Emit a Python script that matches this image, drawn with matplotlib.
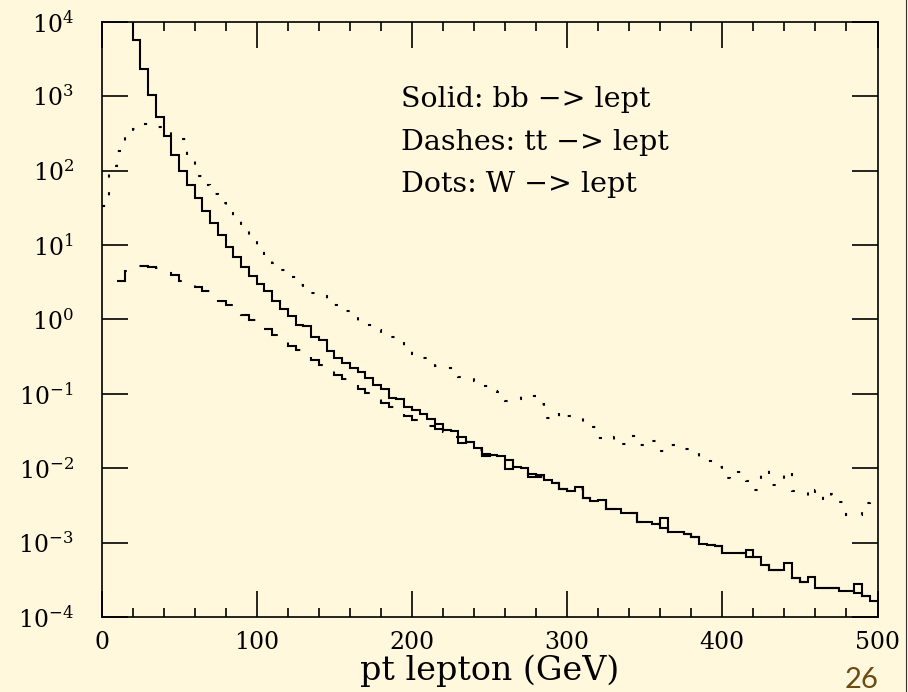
import numpy as np
import matplotlib.pyplot as plt
from matplotlib.ticker import MultipleLocator, NullLocator, FixedLocator
from matplotlib.lines import Line2D

plt.rcParams['font.family'] = 'DejaVu Serif'
plt.rcParams['mathtext.fontset'] = 'dejavuserif'

bg = '#fff8dc'
W, H = 908, 692

# 5 GeV bins; each list starts at its own first bin
bb_start = 15
bb = [2.0e4, 5750, 2290, 1050, 525, 288, 162, 100, 63.1, 42.7,
      28.8, 20.0, 13.8, 9.33, 6.92, 5.01, 3.80, 3.02, 2.45, 1.78,
      1.38, 1.10, 0.832, 0.813, 0.575, 0.537, 0.380, 0.302, 0.263, 0.224,
      0.195, 0.162, 0.132, 0.115, 0.0891, 0.0851, 0.0676, 0.0603, 0.0537, 0.0457,
      0.0389, 0.0331, 0.0316, 0.0219, 0.0229, 0.0186, 0.0158, 0.0151, 0.0145, 0.0129,
      0.0105, 0.0100, 0.00851, 0.00813, 0.00692, 0.00631, 0.00537, 0.00490, 0.00562, 0.00398,
      0.00363, 0.00372, 0.00288, 0.00288, 0.00251, 0.00251, 0.00191, 0.00191, 0.00178, 0.00219,
      0.00141, 0.00141, 0.00132, 0.00120, 0.000977, 0.000933, 0.000912, 0.000724, 0.000724, 0.000724,
      0.000813, 0.000646, 0.000501, 0.000437, 0.000437, 0.000537, 0.000339, 0.000295, 0.000347, 0.000251,
      0.000245, 0.000245, 0.000229, 0.000229, 0.000282, 0.000195, 0.000166]

tt_start = 10
tt = [3.32, 4.53, 5.24, 5.31, 5.14, 4.88, 4.26, 3.96, 3.29, 3.06,
      2.75, 2.42, 2.13, 1.79, 1.57, 1.34, 1.15, 0.984, 0.843, 0.738,
      0.619, 0.531, 0.445, 0.389, 0.341, 0.290, 0.245, 0.210, 0.179, 0.159,
      0.136, 0.115, 0.103, 0.0918, 0.0745, 0.0668, 0.0608, 0.0506, 0.0447, 0.0394,
      0.0367, 0.0338, 0.0308, 0.0267, 0.0267, 0.0224, 0.0177, 0.0148, 0.0151, 0.0145,
      0.00982, 0.0105, 0.0100, 0.00776, 0.00759, 0.00692, 0.00631, 0.00537, 0.00490, 0.00525,
      0.00398, 0.00363, 0.00372, 0.00288, 0.00288, 0.00251, 0.00251, 0.00191, 0.00191, 0.00178,
      0.00158, 0.00141, 0.00141, 0.00132, 0.00120, 0.000977, 0.000933, 0.000912, 0.000724, 0.000724,
      0.000724, 0.000646, 0.000646, 0.000501, 0.000437, 0.000437, 0.000389, 0.000339, 0.000295, 0.000295,
      0.000251, 0.000245, 0.000245, 0.000229, 0.000229, 0.000214, 0.000195, 0.000166]

w_start = 0
wl = [33.9, 115, 186, 282, 363, 427, 427, 389, 339, 288,
      263, 151, 85.1, 64.6, 49.0, 37.2, 28.2, 21.4, 16.2, 12.3,
      9.33, 7.24, 5.75, 4.57, 3.72, 2.95, 2.51, 2.24, 2.04, 1.91,
      1.58, 1.29, 1.10, 0.955, 0.851, 0.724, 0.617, 0.575, 0.501, 0.407,
      0.347, 0.302, 0.263, 0.234, 0.224, 0.200, 0.170, 0.162, 0.148, 0.126,
      0.110, 0.107, 0.0794, 0.0851, 0.0955, 0.0933, 0.0741, 0.0479, 0.0562, 0.0468,
      0.0513, 0.0501, 0.0380, 0.0363, 0.0257, 0.0240, 0.0263, 0.0214, 0.0269, 0.0209,
      0.0240, 0.0234, 0.0170, 0.0209, 0.0200, 0.0182, 0.0166, 0.0126, 0.0126, 0.0105,
      0.00741, 0.00724, 0.00891, 0.00676, 0.00513, 0.00955, 0.00603, 0.00603, 0.00912, 0.00501,
      0.00479, 0.00398, 0.00513, 0.00363, 0.00447, 0.00355, 0.00240, 0.00234, 0.00347, 0.00372]

y_decades = [1e-4, 1e-3, 1e-2, 1e-1, 1e0, 1e1, 1e2, 1e3, 1e4]
legend_lines = ["Solid: bb \u2212> lept", "Dashes: tt \u2212> lept", "Dots: W \u2212> lept"]
xlabel = "pt lepton (GeV)"


def edges(start, n):
    return start + 5 * np.arange(n + 1)


fig = plt.figure(figsize=(W / 100, H / 100), dpi=100, facecolor=bg)
ax = fig.add_axes([101.5 / W, 1 - 617.3 / H, 776 / W, 595.6 / H])
ax.set_facecolor(bg)
ax.set_yscale('log')
ax.set_xlim(0, 500)
ax.set_ylim(1e-4, 1e4)

ax.stairs(wl, edges(w_start, len(wl)), baseline=None, color='black', lw=1.5,
          linestyle=(0, (1.5, 7.0)))
ax.stairs(bb, edges(bb_start, len(bb)), baseline=None, color='black', lw=1.5)
ax.stairs(tt, edges(tt_start, len(tt)), baseline=None, color='black', lw=1.5,
          linestyle=(0, (9.5, 8.5)))

for s in ax.spines.values():
    s.set_linewidth(1.2)

ax.xaxis.set_major_locator(MultipleLocator(100))
ax.xaxis.set_minor_locator(MultipleLocator(20))
ax.yaxis.set_major_locator(FixedLocator(y_decades))
ax.yaxis.set_minor_locator(NullLocator())
ax.tick_params(which='both', direction='in', top=True, right=True, width=1.2, color='black')
ax.tick_params(which='major', length=18.7)
ax.tick_params(which='minor', length=6.5)
ax.tick_params(axis='x', which='major', pad=10, labelsize=17)
ax.tick_params(axis='y', which='major', pad=20, labelsize=17)

# legend block, baselines in pixels from the top
for line, y in zip(legend_lines, [106.7, 150.5, 191.7]):
    fig.text(401 / W, 1 - y / H, line, ha='left', va='baseline', fontsize=20.5)

fig.text(490 / W, 1 - 680 / H, xlabel, ha='center', va='baseline', fontsize=24)

fig.text(861.7 / W, 1 - 688 / H, "26", color='#6b4a14', fontsize=21,
         family='Lato', ha='center', va='baseline')
fig.add_artist(Line2D([906 / W, 906 / W], [0, 1], color='#333333', lw=0.8))

fig.savefig('out.png', dpi=100, facecolor=bg)
